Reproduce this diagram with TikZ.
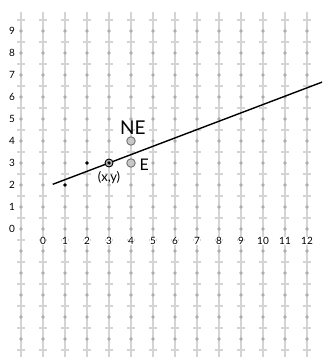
\documentclass[tikz,border=0pt]{standalone}
\usepackage{fontspec}
\setmainfont{Lato}
\tikzset{
  gridline/.style={draw=black!17,line width=1.3pt},
  pixdot/.style={fill=black!32},
  collabel/.style={fill=white,font=\fontsize{10}{11}\selectfont,inner sep=0.5pt},
  rowlabel/.style={font=\fontsize{10}{11}\selectfont},
  candidate/.style={circle,draw=black!55,fill=black!22,line width=0.9pt,minimum size=8.5pt,inner sep=0pt}
}
\begin{document}
\begin{tikzpicture}[x=22pt,y=22pt,every node/.style={inner sep=1pt}]
\useasboundingbox (-1.955,-5.864) rectangle (12.682,10.409);
% grid columns, half-step ticks and pixel centres
\foreach \i in {-1,...,12}{
  \draw[gridline] (\i,-5.8) -- (\i,9.85);
  \foreach \j in {-5.5,-4.5,...,9.5} \draw[gridline] (\i-0.18,\j) -- (\i+0.18,\j);
  \foreach \j in {-5,...,9} \fill[pixdot] (\i,\j) circle (0.09);
}
% axis numbers
\foreach \i in {0,...,12} \node[collabel] (c\i) at (\i,-0.55) {\i};
\foreach \j in {0,...,9} \node[rowlabel] (r\j) at (-1.41,\j) {\j};
% the line
\begin{scope}
\clip (-1.955,-5.864) rectangle (12.682,10.409);
\coordinate (lstart) at (0.44,2.03);
\coordinate (lend) at (12.8,6.72);
\draw[line width=1.4pt] (lstart) -- (lend);
\end{scope}
% chosen pixels
\fill (1,2) circle (0.09);
\fill (2,3) circle (0.09);
\node[circle,draw=black,fill=black!30,line width=0.9pt,minimum size=8pt,inner sep=0pt] (cur) at (3,3) {};
\fill (cur) circle (0.08);
% midpoint candidates
\node[candidate] (ne) at (4,4) {};
\node[candidate] (e) at (4,3) {};
\node[font=\fontsize{19}{20}\selectfont] (nelbl) at (4.08,4.6) {NE};
\node[font=\fontsize{16}{18}\selectfont] (elbl) at (4.6,2.92) {E};
\node[font=\fontsize{13}{15}\selectfont] (curlbl) at (3,2.36) {(x,y)};
\end{tikzpicture}
\end{document}
